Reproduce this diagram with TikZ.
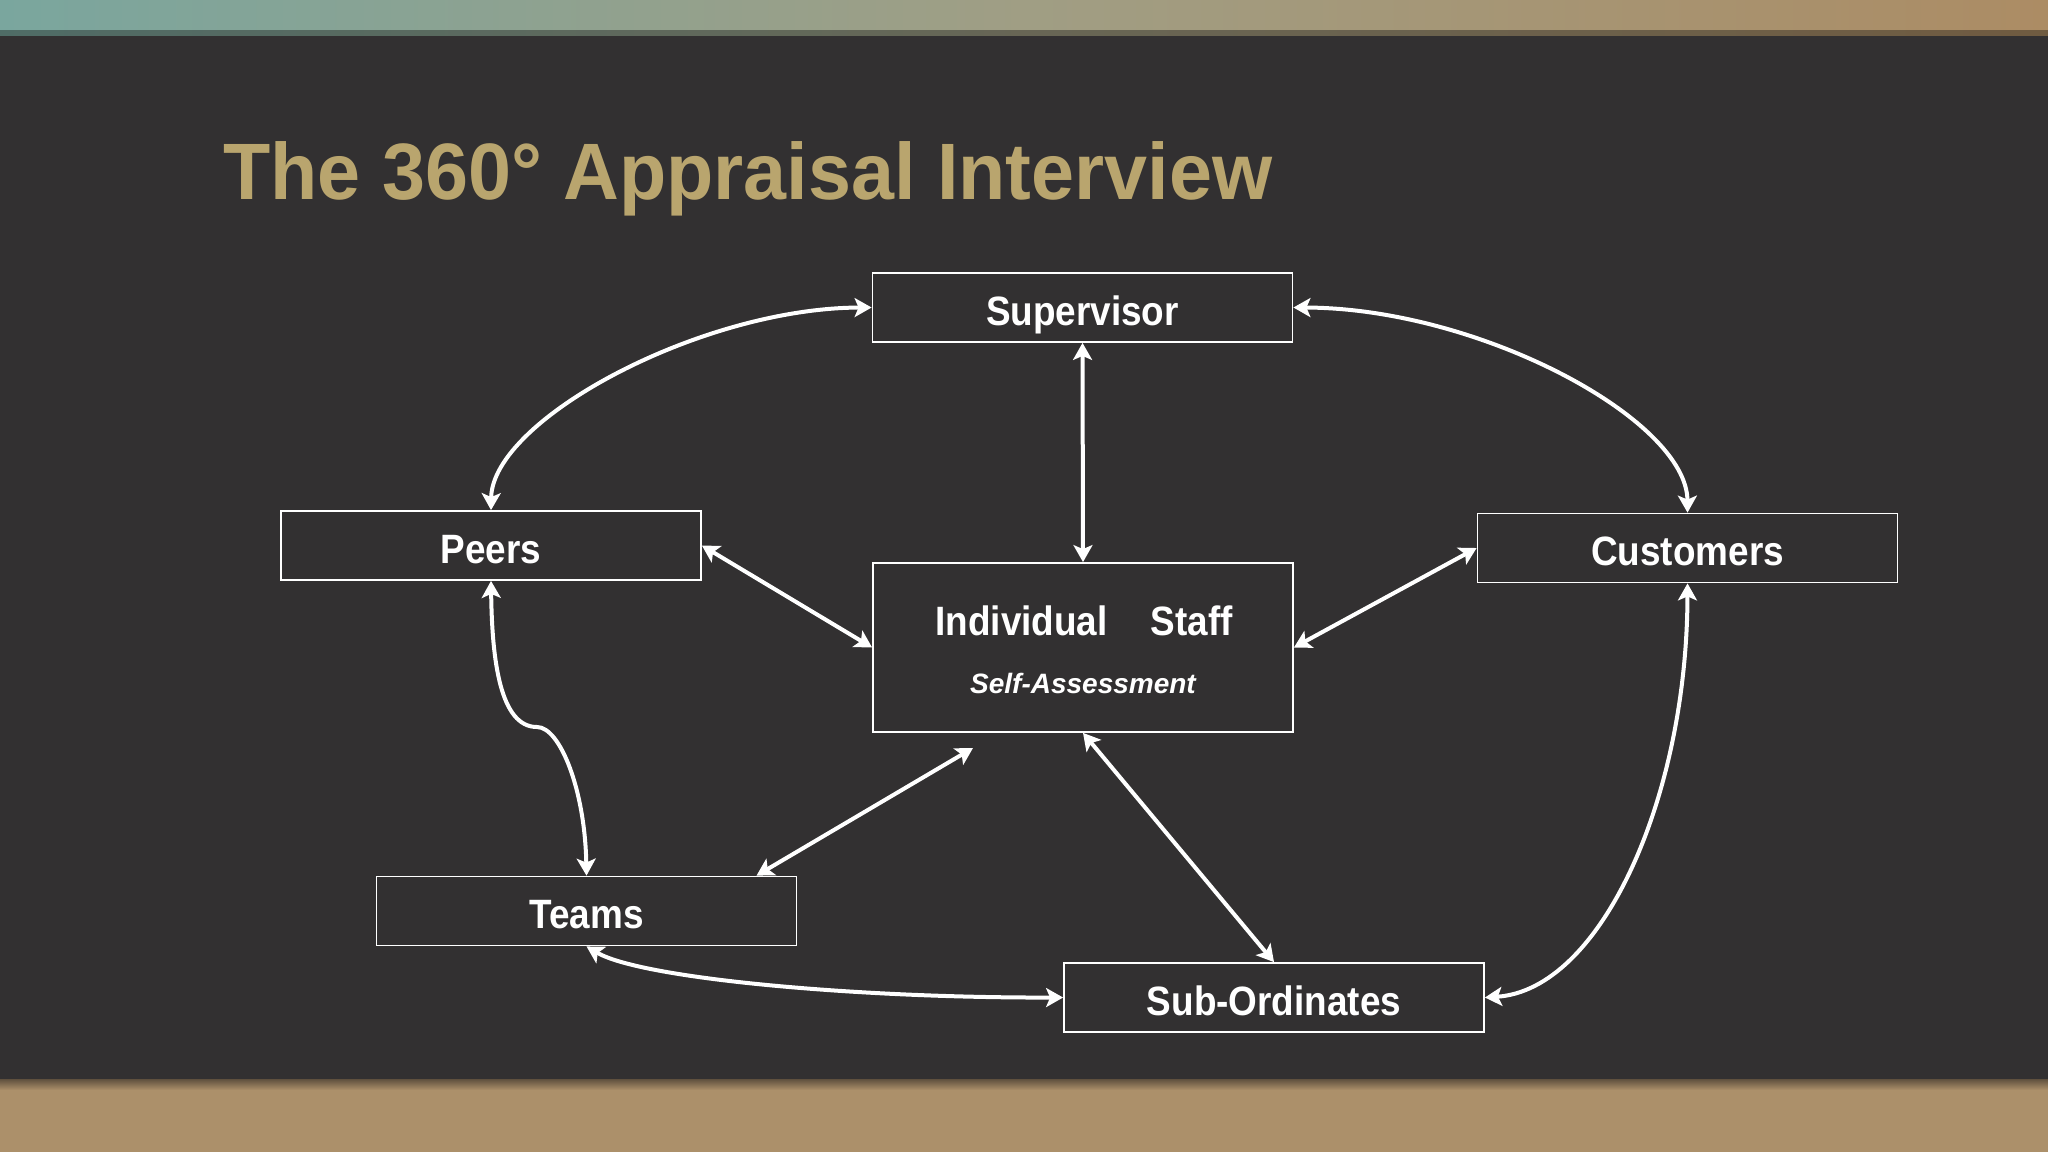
\documentclass[tikz,border=0pt]{standalone}
\usepackage{fontspec}
\setmainfont{Liberation Sans}
\newfontfamily\titlefont[FakeStretch=0.966]{Liberation Sans}
\newfontfamily\boxfont[FakeStretch=0.9]{Liberation Sans}
\usetikzlibrary{arrows.meta}
\definecolor{bg}{RGB}{50,48,49}
\definecolor{titlec}{RGB}{185,165,110}
\definecolor{bandL}{RGB}{122,166,158}
\definecolor{bandM}{RGB}{160,158,132}
\definecolor{bandR}{RGB}{172,140,100}
\definecolor{floorc}{RGB}{172,144,106}
\definecolor{floordark}{RGB}{95,80,62}
\tikzset{
  box/.style={draw=white, line width=0.9pt, fill=bg, minimum width=210pt,
    minimum height=34.5pt, inner sep=0pt, text=white, text height=17.5pt, text depth=0pt,
    font=\boxfont\bfseries\fontsize{20.5}{24}\selectfont},
  conn/.style={draw=white, line width=2pt,
    {Stealth[length=8.5pt,width=9.5pt,inset=2pt]}-{Stealth[length=8.5pt,width=9.5pt,inset=2pt]}},
  lab/.style={text=white, inner sep=0pt}
}
\begin{document}
\begin{tikzpicture}[x=0.5pt,y=-0.5pt]
\useasboundingbox (0,0) rectangle (2048,1152);
% background
\fill[bg] (0,0) rectangle (2048,1152);
\shade[left color=bandL, right color=bandR, middle color=bandM] (0,0) rectangle (2048,35);
\fill[black, opacity=0.35] (0,30) rectangle (2048,36);
\fill[floorc] (0,1081) rectangle (2048,1152);
\shade[top color=floordark, bottom color=floorc] (0,1079) rectangle (2048,1090);
% title
\node[anchor=base west, inner sep=0pt, text=titlec,
  font=\titlefont\bfseries\fontsize{40}{48}\selectfont] (title) at (223,199)
  {The 360\textdegree{} Appraisal Interview};
% boxes
\node[box] (sup) at (1082.5,307.5) {Supervisor};
\node[box] (peers) at (491,545.5) {Peers};
\node[box] (cust) at (1687.5,548) {Customers};
\node[box, minimum height=84.5pt] (ind) at (1083,647.5) {};
\node[box] (teams) at (586.5,911) {Teams};
\node[box] (sub) at (1274,997.5) {Sub-Ordinates};
\node[lab, anchor=base, font=\boxfont\bfseries\fontsize{20.5}{24}\selectfont] (indt) at (1084,635)
  {Individual\hspace{21.5pt}Staff};
\node[lab, anchor=base, font=\bfseries\itshape\fontsize{14}{17}\selectfont] (self) at (1083,693)
  {Self-Assessment};
% connectors
\coordinate (free) at (973,748);
\draw[conn] (sup.west) .. controls (700,308) and (492,420) .. (peers.north);
\draw[conn] (sup.east) .. controls (1480,308) and (1687,420) .. (cust.north);
\draw[conn] (sup.south) -- (ind.north);
\draw[conn] (peers.east) -- (ind.west);
\draw[conn] (cust.west) -- (ind.east);
\draw[conn] (ind.south) -- (sub.north);
\draw[conn] (free) -- ([xshift=85pt]teams.north);
\draw[conn] (peers.south) .. controls (492,660) and (500,727) .. (537,727)
  .. controls (560,727) and (585,790) .. (teams.north);
\draw[conn] (teams.south) .. controls (640,978) and (850,998) .. (sub.west);
\draw[conn] (cust.south) .. controls (1687,800) and (1600,990) .. (sub.east);
\end{tikzpicture}
\end{document}
